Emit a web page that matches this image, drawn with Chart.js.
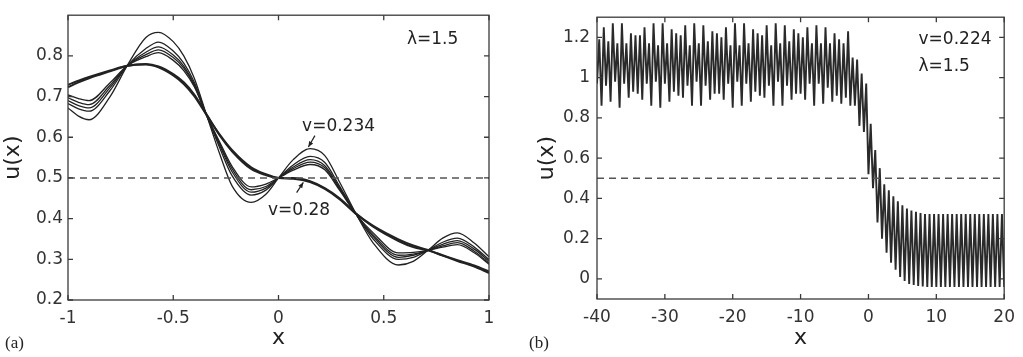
<!DOCTYPE html>
<html>
<head>
<meta charset="utf-8">
<script src="https://cdn.jsdelivr.net/npm/chart.js@4.4.1/dist/chart.umd.min.js"></script>
<style>
  body { margin: 0; background: #fff; }
  .panel { position: absolute; top: 0; }
</style>
</head>
<body>
<div class="panel" style="left:0"><canvas id="ca" width="512" height="357"></canvas></div>
<div class="panel" style="left:512px"><canvas id="cb" width="511" height="357"></canvas></div>
<script>
// -------------------- DATA (a) -------------------
const xA = [-1, -0.95, -0.9, -0.8, -0.72, -0.63, -0.57, -0.5, -0.45, -0.4,
  -0.34, -0.28, -0.22, -0.13, -0.06, 0, 0.07, 0.15, 0.22, 0.29,
  0.37, 0.45, 0.57, 0.64, 0.71, 0.78, 0.85, 0.93, 1];
// thick curves (v=0.28 and neighbour)
const uK1 = [0.723, 0.735, 0.745, 0.762, 0.775, 0.780, 0.774, 0.755, 0.735, 0.705,
  0.655, 0.605, 0.565, 0.522, 0.507, 0.500, 0.500, 0.492, 0.475, 0.450,
  0.412, 0.380, 0.345, 0.330, 0.322, 0.310, 0.298, 0.285, 0.270];
const uK2 = [0.729, 0.739, 0.748, 0.764, 0.776, 0.779, 0.772, 0.752, 0.731, 0.701,
  0.653, 0.607, 0.568, 0.526, 0.509, 0.500, 0.498, 0.490, 0.473, 0.448,
  0.411, 0.382, 0.349, 0.334, 0.323, 0.309, 0.296, 0.282, 0.266];
// thin curves, smallest to largest ripple (largest = v=0.234)
const uT5 = [0.704, 0.695, 0.690, 0.734, 0.775, 0.798, 0.808, 0.789, 0.764, 0.724,
  0.652, 0.589, 0.528, 0.478, 0.485, 0.500, 0.519, 0.533, 0.520, 0.470,
  0.410, 0.365, 0.316, 0.317, 0.322, 0.330, 0.336, 0.316, 0.288];
const uT4 = [0.697, 0.686, 0.680, 0.728, 0.775, 0.803, 0.815, 0.796, 0.770, 0.727,
  0.652, 0.585, 0.522, 0.471, 0.479, 0.500, 0.523, 0.539, 0.525, 0.473,
  0.410, 0.360, 0.310, 0.313, 0.322, 0.333, 0.341, 0.320, 0.291];
const uT3 = [0.690, 0.678, 0.672, 0.722, 0.775, 0.809, 0.822, 0.802, 0.775, 0.730,
  0.652, 0.581, 0.515, 0.465, 0.475, 0.500, 0.527, 0.545, 0.530, 0.476,
  0.410, 0.356, 0.305, 0.310, 0.322, 0.337, 0.346, 0.325, 0.295];
const uT2 = [0.683, 0.670, 0.664, 0.715, 0.775, 0.818, 0.834, 0.812, 0.782, 0.735,
  0.652, 0.575, 0.505, 0.458, 0.470, 0.500, 0.532, 0.553, 0.538, 0.480,
  0.410, 0.350, 0.300, 0.305, 0.322, 0.342, 0.352, 0.330, 0.299];
const uT1 = [0.672, 0.652, 0.643, 0.700, 0.775, 0.845, 0.858, 0.835, 0.800, 0.745,
  0.652, 0.560, 0.480, 0.440, 0.460, 0.500, 0.545, 0.572, 0.555, 0.490,
  0.410, 0.340, 0.286, 0.295, 0.322, 0.352, 0.365, 0.340, 0.306];
const xTicksA = [-1, -0.5, 0, 0.5, 1];
const yTicksA = [0.2, 0.3, 0.4, 0.5, 0.6, 0.7, 0.8];

// -------------------- DATA (b) -------------------
const xB = [
  -40,-39.67,-39.33, -39,-38.67,-38.33, -38,-37.67,-37.33, -37,-36.67,-36.33,
  -36,-35.67,-35.33, -35,-34.67,-34.33, -34,-33.67,-33.33, -33,-32.67,-32.33,
  -32,-31.67,-31.33, -31,-30.67,-30.33, -30,-29.67,-29.33, -29,-28.67,-28.33,
  -28,-27.67,-27.33, -27,-26.67,-26.33, -26,-25.67,-25.33, -25,-24.67,-24.33,
  -24,-23.67,-23.33, -23,-22.67,-22.33, -22,-21.67,-21.33, -21,-20.67,-20.33,
  -20,-19.67,-19.33, -19,-18.67,-18.33, -18,-17.67,-17.33, -17,-16.67,-16.33,
  -16,-15.67,-15.33, -15,-14.67,-14.33, -14,-13.67,-13.33, -13,-12.67,-12.33,
  -12,-11.67,-11.33, -11,-10.67,-10.33, -10,-9.67,-9.33, -9,-8.67,-8.33,
  -8,-7.67,-7.33, -7,-6.67,-6.33, -6,-5.67,-5.33, -5,-4.67,-4.33,
  -4,-3.67,-3.33, -3,-2.67,-2.33, -2,-1.67,-1.33, -1,-0.67,-0.33,
  0,0.33,0.67, 1,1.33,1.67, 2,2.33,2.67, 3,3.33,3.67,
  4,4.33,4.67, 5,5.33,5.67, 6,6.33,6.67, 7,7.33,7.67,
  8,8.33,8.67, 9,9.33,9.67, 10,10.33,10.67, 11,11.33,11.67,
  12,12.33,12.67, 13,13.33,13.67, 14,14.33,14.67, 15,15.33,15.67,
  16,16.33,16.67, 17,17.33,17.67, 18,18.33,18.67, 19,19.33,19.67,
  20];
const uB = [
  0.97,1.19, 0.86,1.25, 0.96,1.18, 0.88,1.27, 0.98,1.17,
  0.85,1.27, 0.97,1.17, 0.90,1.22, 0.93,1.21, 0.92,1.21,
  0.89,1.25, 0.97,1.17, 0.86,1.27, 0.98,1.16, 0.85,1.27,
  0.97,1.17, 0.88,1.24, 0.93,1.22, 0.91,1.21, 0.90,1.26,
  0.96,1.16, 0.86,1.27, 0.98,1.17, 0.86,1.26, 0.96,1.18,
  0.89,1.23, 0.92,1.22, 0.92,1.20, 0.89,1.25, 0.97,1.16,
  0.85,1.27, 0.98,1.16, 0.86,1.27, 0.97,1.17, 0.88,1.24,
  0.93,1.22, 0.91,1.21, 0.90,1.26, 0.96,1.16, 0.86,1.27,
  0.98,1.17, 0.86,1.26, 0.96,1.18, 0.89,1.24, 0.92,1.22,
  0.92,1.20, 0.89,1.25, 0.97,1.17, 0.86,1.26, 0.97,1.17,
  0.87,1.25, 0.95,1.17, 0.88,1.22, 0.91,1.19, 0.87,1.17,
  0.90,1.23, 0.86,1.10,
  0.86,
  1.09, 0.76, 1.02, 0.73, 0.97, 0.52, 0.77, 0.45, 0.64, 0.28,
  0.55, 0.20, 0.47, 0.13, 0.44, 0.08, 0.41, 0.045, 0.385, 0.01,
  0.365, -0.01, 0.35, -0.025, 0.34, -0.03, 0.333, -0.035, 0.327, -0.038,
  0.322,-0.04, 0.322,-0.04, 0.322,-0.04, 0.322,-0.04, 0.322,-0.04, 0.322,-0.04,
  0.322,-0.04, 0.322,-0.04, 0.322,-0.04, 0.322,-0.04, 0.322,-0.04, 0.322,-0.04,
  0.322,-0.04, 0.322,-0.04, 0.322,-0.04, 0.322,-0.04, 0.322,-0.04, 0.322,-0.04];
const xTicksB = [-40, -30, -20, -10, 0, 10, 20];
const yTicksB = [0, 0.2, 0.4, 0.6, 0.8, 1, 1.2];
const refLevel = 0.5;

// -------------------- HELPERS -------------------
const FONT = '"DejaVu Sans", "Liberation Sans", Arial, sans-serif';
const INK = '#222';

function pts(xs, ys) {
  return xs.map((x, i) => ({x: x, y: ys[i]}));
}

function curve(xs, ys, width) {
  return {
    data: pts(xs, ys),
    borderColor: INK,
    borderWidth: width,
    pointRadius: 0,
    cubicInterpolationMode: 'monotone',
    showLine: true
  };
}

function refLine(x0, x1) {
  return {
    data: [{x: x0, y: refLevel}, {x: x1, y: refLevel}],
    borderColor: '#555',
    borderWidth: 1.5,
    borderDash: [7, 5],
    pointRadius: 0,
    showLine: true
  };
}

const framePlugin = {
  id: 'frame',
  afterDatasetsDraw(chart, args, opts) {
    const ctx = chart.ctx;
    const a = chart.chartArea;
    const sx = chart.scales.x, sy = chart.scales.y;
    ctx.save();
    ctx.strokeStyle = '#3a3a3a';
    ctx.lineWidth = 1.3;
    ctx.strokeRect(a.left, a.top, a.right - a.left, a.bottom - a.top);
    // inward ticks on all four sides
    ctx.beginPath();
    sx.ticks.forEach(t => {
      let p = sx.getPixelForValue(t.value);
      ctx.moveTo(p, a.bottom); ctx.lineTo(p, a.bottom - 5);
      ctx.moveTo(p, a.top); ctx.lineTo(p, a.top + 5);
    });
    sy.ticks.forEach(t => {
      let p = sy.getPixelForValue(t.value);
      ctx.moveTo(a.left, p); ctx.lineTo(a.left + 5, p);
      ctx.moveTo(a.right, p); ctx.lineTo(a.right - 5, p);
    });
    ctx.stroke();

    // notes
    ctx.fillStyle = INK;
    ctx.font = '17px ' + FONT;
    ctx.textBaseline = 'alphabetic';
    opts.notes.forEach(n => {
      ctx.fillText(n.text, sx.getPixelForValue(n.x), sy.getPixelForValue(n.y));
    });

    // arrows
    ctx.strokeStyle = INK;
    ctx.lineWidth = 1.2;
    opts.arrows.forEach(ar => {
      let x0 = sx.getPixelForValue(ar.from[0]), y0 = sy.getPixelForValue(ar.from[1]);
      let x1 = sx.getPixelForValue(ar.to[0]), y1 = sy.getPixelForValue(ar.to[1]);
      let ang = Math.atan2(y1 - y0, x1 - x0);
      ctx.beginPath();
      ctx.moveTo(x0, y0); ctx.lineTo(x1, y1);
      ctx.stroke();
      ctx.beginPath();
      ctx.moveTo(x1, y1);
      ctx.lineTo(x1 - 6 * Math.cos(ang - 0.4), y1 - 6 * Math.sin(ang - 0.4));
      ctx.lineTo(x1 - 6 * Math.cos(ang + 0.4), y1 - 6 * Math.sin(ang + 0.4));
      ctx.closePath();
      ctx.fill();
    });

    // panel tag
    ctx.font = '17px "Liberation Serif", "DejaVu Serif", serif';
    ctx.fillText(opts.tag, opts.tagX, 348);
    ctx.restore();
  }
};

function makeOptions(cfg) {
  return {
    responsive: false,
    animation: false,
    devicePixelRatio: 1,
    layout: { padding: { left: 0, right: cfg.padRight, top: cfg.padTop, bottom: 0 } },
    scales: {
      x: {
        type: 'linear',
        min: cfg.xMin, max: cfg.xMax,
        afterFit: s => { s.height = cfg.xHeight; },
        afterBuildTicks: s => { s.ticks = cfg.xTicks.map(v => ({value: v})); },
        grid: { display: false, drawTicks: false },
        border: { display: false },
        ticks: { font: { family: FONT, size: 17 }, color: '#333', padding: 8, maxRotation: 0, autoSkip: false,
                 callback: v => String(v) },
        title: { display: true, text: 'x', font: { family: FONT, size: 22 }, color: INK, padding: { top: 0, bottom: 6 } }
      },
      y: {
        type: 'linear',
        min: cfg.yMin, max: cfg.yMax,
        afterFit: s => { s.width = cfg.yWidth; },
        afterBuildTicks: s => { s.ticks = cfg.yTicks.map(v => ({value: v})); },
        grid: { display: false, drawTicks: false },
        border: { display: false },
        ticks: { font: { family: FONT, size: 17 }, color: '#333', padding: cfg.yPad, autoSkip: false,
                 callback: v => String(v) },
        title: { display: true, text: 'u(x)', font: { family: FONT, size: 22 }, color: INK, padding: { top: cfg.yTitlePad, bottom: 0 } }
      }
    },
    plugins: {
      legend: { display: false },
      tooltip: { enabled: false },
      frame: { notes: cfg.notes, arrows: cfg.arrows, tag: cfg.tag, tagX: cfg.tagX }
    }
  };
}

// -------------------- CHARTS -------------------
new Chart(document.getElementById('ca'), {
  type: 'scatter',
  data: {
    datasets: [
      refLine(-1, 1),
      curve(xA, uT1, 1.3),
      curve(xA, uT2, 1.3),
      curve(xA, uT3, 1.3),
      curve(xA, uT4, 1.3),
      curve(xA, uT5, 1.3),
      curve(xA, uK1, 2.0),
      curve(xA, uK2, 2.0)
    ]
  },
  options: makeOptions({
    xMin: -1, xMax: 1, yMin: 0.2, yMax: 0.9,
    xTicks: xTicksA, yTicks: yTicksA,
    padRight: 23, padTop: 8, xHeight: 57, yWidth: 68, yPad: 5, yTitlePad: 0,
    notes: [
      {text: 'λ=1.5', x: 0.61, y: 0.829},
      {text: 'v=0.234', x: 0.112, y: 0.615},
      {text: 'v=0.28', x: -0.05, y: 0.409}
    ],
    arrows: [
      {from: [0.173, 0.604], to: [0.142, 0.576]},
      {from: [0.086, 0.464], to: [0.118, 0.489]}
    ],
    tag: '(a)', tagX: 5
  }),
  plugins: [framePlugin]
});

new Chart(document.getElementById('cb'), {
  type: 'scatter',
  data: {
    datasets: [
      refLine(-40, 20),
      {
        data: pts(xB, uB),
        borderColor: '#2a2a2a',
        borderWidth: 1.9,
        pointRadius: 0,
        tension: 0,
        showLine: true
      }
    ]
  },
  options: makeOptions({
    xMin: -40, xMax: 20, yMin: -0.1, yMax: 1.3,
    xTicks: xTicksB, yTicks: yTicksB,
    padRight: 17, padTop: 9, xHeight: 58, yWidth: 85, yPad: 7, yTitlePad: 22,
    notes: [
      {text: 'v=0.224', x: 7.38, y: 1.166},
      {text: 'λ=1.5', x: 7.38, y: 1.031}
    ],
    arrows: [],
    tag: '(b)', tagX: 17
  }),
  plugins: [framePlugin]
});
</script>
</body>
</html>
